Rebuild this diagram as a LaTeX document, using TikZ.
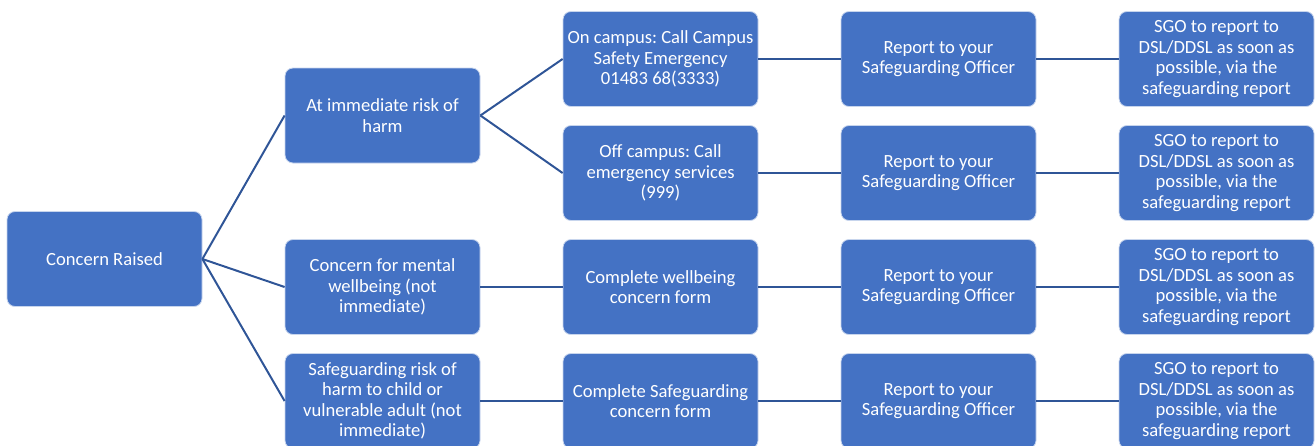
\documentclass[tikz,border=0pt]{standalone}
\usepackage{fontspec}
\setmainfont{Carlito}
\frenchspacing
\definecolor{boxblue}{HTML}{4472C4}
\definecolor{lineblue}{HTML}{2F5597}
\begin{document}
\begin{tikzpicture}[x=1pt,y=-1pt,
  box/.style={rectangle, rounded corners=8pt, fill=boxblue, draw=white!70!boxblue, line width=0.8pt,
    minimum width=195pt, minimum height=95pt, align=center, inner sep=0pt,
    text=white, font=\fontsize{18.6}{20.5}\selectfont},
  link/.style={draw=lineblue, line width=2pt}]
\useasboundingbox (0,0) rectangle (1316,445);
\clip (0,0) rectangle (1316,445);
% column 1
\node[box] (cr) at (104.5,259) {Concern Raised};
% column 2
\node[box] (imm) at (382.5,115.5) {At immediate risk of\\harm};
\node[box] (mw) at (382.5,287) {Concern for mental\\wellbeing (not\\immediate)};
\node[box] (sg) at (382.5,401) {Safeguarding risk of\\harm to child or\\vulnerable adult (not\\immediate)};
% column 3
\node[box] (on) at (660.5,59) {On campus: Call Campus\\Safety Emergency\\01483 68(3333)};
\node[box] (off) at (660.5,173) {Off campus: Call\\emergency services\\(999)};
\node[box] (wf) at (660.5,287) {Complete wellbeing\\concern form};
\node[box] (sf) at (660.5,401) {Complete Safeguarding\\concern form};
% column 4
\node[box] (r1) at (938.5,59) {Report to your\\Safeguarding Officer};
\node[box] (r2) at (938.5,173) {Report to your\\Safeguarding Officer};
\node[box] (r3) at (938.5,287) {Report to your\\Safeguarding Officer};
\node[box] (r4) at (938.5,401) {Report to your\\Safeguarding Officer};
% column 5
\node[box] (s1) at (1216.5,59) {SGO to report to\\DSL/DDSL as soon as\\possible, via the\\safeguarding report};
\node[box] (s2) at (1216.5,173) {SGO to report to\\DSL/DDSL as soon as\\possible, via the\\safeguarding report};
\node[box] (s3) at (1216.5,287) {SGO to report to\\DSL/DDSL as soon as\\possible, via the\\safeguarding report};
\node[box] (s4) at (1216.5,401) {SGO to report to\\DSL/DDSL as soon as\\possible, via the\\safeguarding report};
% connectors
\draw[link] (cr.east) -- (imm.west);
\draw[link] (cr.east) -- (mw.west);
\draw[link] (cr.east) -- (sg.west);
\draw[link] (imm.east) -- (on.west);
\draw[link] (imm.east) -- (off.west);
\draw[link] (mw.east) -- (wf.west);
\draw[link] (sg.east) -- (sf.west);
\draw[link] (on.east) -- (r1.west);
\draw[link] (off.east) -- (r2.west);
\draw[link] (wf.east) -- (r3.west);
\draw[link] (sf.east) -- (r4.west);
\draw[link] (r1.east) -- (s1.west);
\draw[link] (r2.east) -- (s2.west);
\draw[link] (r3.east) -- (s3.west);
\draw[link] (r4.east) -- (s4.west);
\end{tikzpicture}
\end{document}
